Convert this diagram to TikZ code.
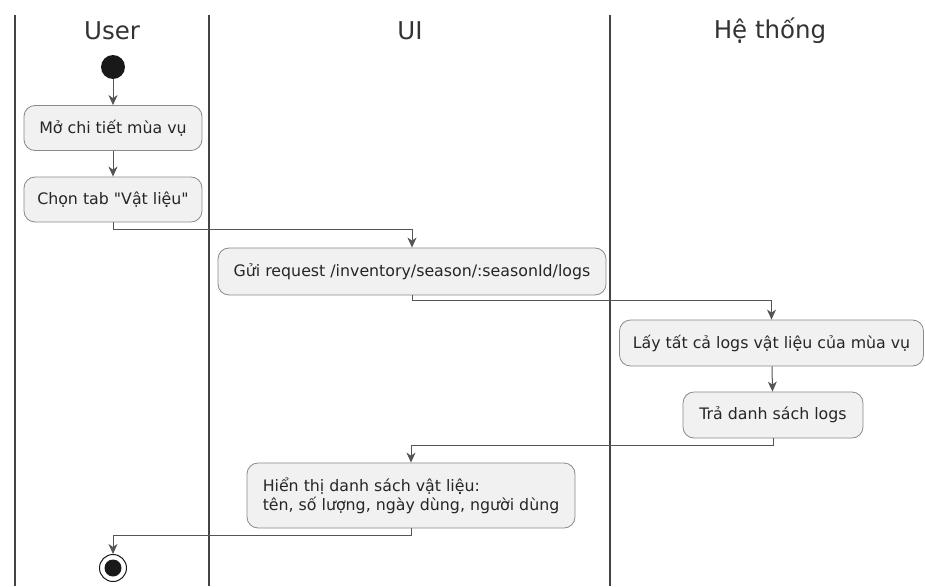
\documentclass[tikz,border=0pt]{standalone}
\usepackage{fontspec}
\setmainfont{DejaVu Sans}[Ligatures=TeXOff]
\usetikzlibrary{arrows.meta}
\definecolor{boxfill}{HTML}{F1F1F1}
\definecolor{boxline}{HTML}{8A8A8A}
\definecolor{laneline}{HTML}{444444}
\definecolor{flow}{HTML}{555555}
\tikzset{
  act/.style={draw=boxline, fill=boxfill, rounded corners=11pt, line width=0.8pt,
    font=\fontsize{15.8}{19}\selectfont, text=black!85, inner xsep=8pt, inner ysep=0pt},
  lanetitle/.style={font=\fontsize{24.5}{28}\selectfont, text=black!80},
  lane/.style={draw=laneline, line width=1.6pt},
  flowline/.style={draw=flow, line width=1pt, -{Stealth[length=10pt,width=9pt,inset=3pt]}},
}
\begin{document}
\begin{tikzpicture}[x=1pt,y=-1pt]
\useasboundingbox (0,0) rectangle (925,586);
\fill[white] (0,0) rectangle (925,586);

% swimlane separators
\draw[lane] (15,15) -- (15,586);
\draw[lane] (209,15) -- (209,586);
\draw[lane] (610,15) -- (610,586);

% lane titles
\node[lanetitle] (tUser) at (112,31) {User};
\node[lanetitle] (tUI) at (410,31) {UI};
\node[lanetitle] (tSys) at (770,31) {Hệ thống};

% start and end
\node[circle, fill=black!90, minimum size=24pt, inner sep=0pt] (start) at (113,67) {};
\node[circle, draw=black!90, line width=1pt, minimum size=27pt, inner sep=0pt] (stop) at (113,568) {};
\fill[black!90] (stop.center) circle (8.5pt);

% activities
\node[act, minimum width=178pt, minimum height=45pt] (open) at (113,128) {Mở chi tiết mùa vụ};
\node[act, minimum width=178pt, minimum height=45pt] (tab) at (113,199.5) {Chọn tab "Vật liệu"};
\node[act, minimum width=388pt, minimum height=47pt] (req) at (412,271.5) {Gửi request /inventory/season/:seasonId/logs};
\node[act, minimum width=304pt, minimum height=46pt] (fetch) at (771.5,343) {Lấy tất cả logs vật liệu của mùa vụ};
\node[act, minimum width=180pt, minimum height=46pt] (ret) at (773,415) {Trả danh sách logs};
\node[act, minimum width=328pt, minimum height=65pt, align=left] (show) at (411,495.5)
  {Hiển thị danh sách vật liệu:\\tên, số lượng, ngày dùng, người dùng};

% control flow
\draw[flowline] (start) -- (open);
\draw[flowline] (open) -- (tab);
\draw[flowline] (tab.south) -- ++(0,7) -| (req.north);
\draw[flowline] (req.south) -- ++(0,5) -| (fetch.north);
\draw[flowline] (fetch) -- (ret);
\draw[flowline] (ret.south) -- ++(0,7) -| (show.north);
\draw[flowline] (show.south) -- ++(0,7) -| (stop.north);
\end{tikzpicture}
\end{document}
